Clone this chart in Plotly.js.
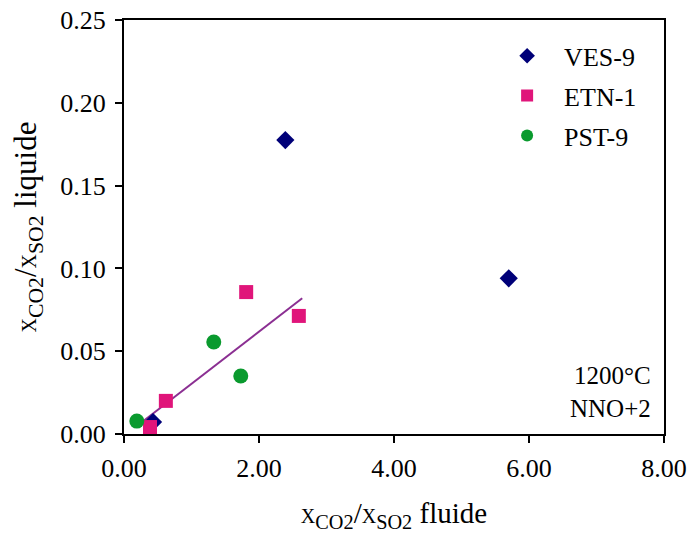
<!DOCTYPE html>
<html>
<head>
<meta charset="utf-8">
<script src="https://cdn.plot.ly/plotly-3.0.1.min.js"></script>
<style>html,body{margin:0;padding:0;background:#fff;}#chart{width:691px;height:535px;}</style>
</head>
<body>
<div id="chart"></div>
<script>
// Data
const vesX = [2.39, 5.70, 0.43];
const vesY = [0.1775, 0.094, 0.0072];
const etnX = [0.385, 0.62, 1.81, 2.59];
const etnY = [0.0042, 0.020, 0.0857, 0.0713];
const pstX = [0.19, 1.33, 1.73];
const pstY = [0.0078, 0.0556, 0.035];
const fitX = [0.21, 2.64];
const fitY = [0.0054, 0.082];
const xTicks = [0, 2, 4, 6, 8];
const xTickText = ["0.00", "2.00", "4.00", "6.00", "8.00"];
const yTicks = [0, 0.05, 0.10, 0.15, 0.20, 0.25];
const yTickText = ["0.00", "0.05", "0.10", "0.15", "0.20", "0.25"];

const font = "Liberation Serif, Times New Roman, serif";
const small = "<span style='font-size:20px'>X</span>";
const titleText = (word) => small + "<sub>CO2</sub>/" + small + "<sub>SO2</sub> " + word;

const traces = [
  {x: fitX, y: fitY, mode: "lines", line: {color: "#8B2F92", width: 2}, showlegend: false, hoverinfo: "skip"},
  {x: vesX, y: vesY, mode: "markers", name: "VES-9", legendgroup: "a",
   marker: {symbol: "diamond", size: 14, color: "#000078"}},
  {x: etnX, y: etnY, mode: "markers", name: "ETN-1", legendgroup: "b",
   marker: {symbol: "square", size: 14, color: "#E0157A"}},
  {x: pstX, y: pstY, mode: "markers", name: "PST-9", legendgroup: "c",
   marker: {symbol: "circle", size: 15, color: "#0A9A2E"}}
];

const layout = {
  width: 691, height: 535,
  margin: {l: 124, r: 27, t: 20, b: 101},
  paper_bgcolor: "#fff", plot_bgcolor: "#fff",
  font: {family: font, size: 26, color: "#000"},
  showlegend: true,
  legend: {x: 0.678, y: 0.97, xanchor: "left", yanchor: "top",
           font: {family: font, size: 26}, itemsizing: "constant", itemwidth: 64,
           tracegroupgap: 3, bgcolor: "rgba(0,0,0,0)"},
  xaxis: {
    range: [0, 8], tickvals: xTicks, ticktext: xTickText,
    ticks: "outside", ticklen: 7, tickwidth: 2, tickcolor: "#000",
    showline: true, linecolor: "#000", linewidth: 2, mirror: true,
    showgrid: false, zeroline: false, ticklabelstandoff: 3,
    tickfont: {family: font, size: 26},
    title: {text: titleText("fluide"), font: {family: font, size: 29}, standoff: 20}
  },
  yaxis: {
    range: [0, 0.25], tickvals: yTicks, ticktext: yTickText,
    ticks: "outside", ticklen: 7, tickwidth: 2, tickcolor: "#000",
    showline: true, linecolor: "#000", linewidth: 2, mirror: true,
    showgrid: false, zeroline: false, ticklabelstandoff: 4,
    tickfont: {family: font, size: 26},
    title: {text: titleText("liquide"), font: {family: font, size: 31}, standoff: 14}
  },
  annotations: [
    {x: 0.98, y: 0.025, xref: "paper", yref: "paper", xanchor: "right", yanchor: "bottom",
     text: "1200°C<br>NNO+2", align: "right", showarrow: false,
     font: {family: font, size: 25}}
  ]
};

Plotly.newPlot("chart", traces, layout, {displayModeBar: false, staticPlot: true});
</script>
</body>
</html>
